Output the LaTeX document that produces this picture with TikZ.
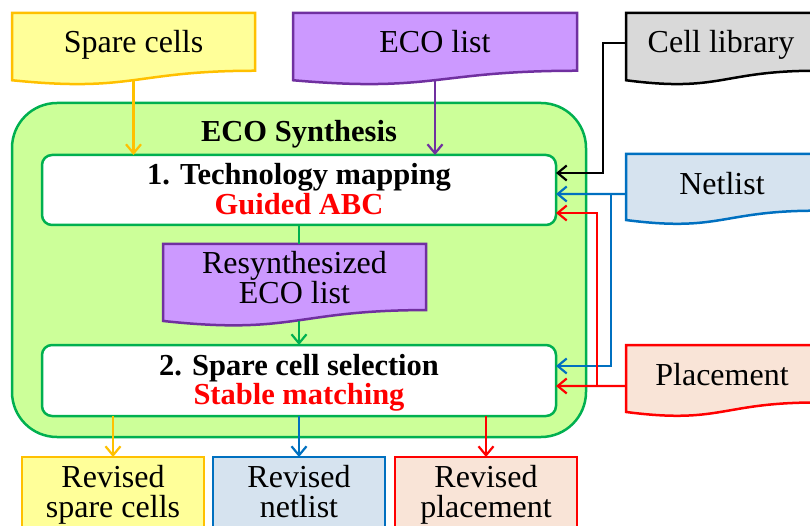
\documentclass[tikz,border=0pt]{standalone}
\usepackage{fontspec}
\setmainfont{Liberation Serif}
\usetikzlibrary{arrows.meta}
\definecolor{yelfill}{HTML}{FFFF99}
\definecolor{yeldraw}{HTML}{FFC000}
\definecolor{purfill}{HTML}{CC99FF}
\definecolor{purdraw}{HTML}{7030A0}
\definecolor{greyfill}{HTML}{D9D9D9}
\definecolor{bluefill}{HTML}{D6E3EF}
\definecolor{bluedraw}{HTML}{0070C0}
\definecolor{peachfill}{HTML}{F9E4D7}
\definecolor{reddraw}{HTML}{FF0000}
\definecolor{grnfill}{HTML}{CCFF99}
\definecolor{grndraw}{HTML}{00B050}
% document shape: name, x1, y1, x2, h, style
\newcommand{\docshape}[6]{%
  \path[#6] (#2,#3) -- (#4,#3) -- (#4,{#3+0.802*#5})
    .. controls ({(#2+#4)/2},{#3+0.802*#5}) and ({(#2+#4)/2},{#3+1.107*#5}) ..
    (#2,{#3+0.934*#5}) -- cycle;
  \node[inner sep=0, outer sep=0, minimum width={(#4-#2)*1pt},
        minimum height={0.933*#5*1pt}, anchor=north west] (#1) at (#2,#3) {};%
}
\begin{document}
\begin{tikzpicture}[x=1pt,y=-1pt, line width=2.5pt,
  txt/.style={font=\fontsize{32}{32}\selectfont, inner sep=0, anchor=base},
  btxt/.style={font=\fontsize{30.5}{31}\selectfont\bfseries, inner sep=0, anchor=base},
  arr/.style={line width=2.2pt, -{Straight Barb[length=9pt,width=15pt]}},
  boxnode/.style={inner sep=0, outer sep=0, anchor=north west},
  stepbox/.style={boxnode, draw=grndraw, fill=white, rounded corners=10pt, minimum width=514pt}
]
\useasboundingbox (0,0) rectangle (810,526);
\clip (0,0) rectangle (810,526);

% outer ECO synthesis box
\node[boxnode, draw=grndraw, fill=grnfill, rounded corners=45pt,
      minimum width=574pt, minimum height=334pt] (synth) at (12,103) {};
\node[btxt] (tsynth) at (299,142) {ECO Synthesis};

% steps
\node[stepbox, minimum height=70pt] (box1) at (42,155) {};
\node[btxt] (t1a) at (299,185) {1. Technology mapping};
\node[btxt, text=reddraw] (t1b) at (299,215) {Guided ABC};

\node[stepbox, minimum height=71pt] (box2) at (42,345) {};
\node[btxt] (t2a) at (299,375.5) {2. Spare cell selection};
\node[btxt, text=reddraw] (t2b) at (299,404) {Stable matching};

% document shapes
\docshape{spare}{12}{13}{255}{72}{draw=yeldraw, fill=yelfill}
\node[txt] (tspare) at (133.5,53) {Spare cells};
\docshape{eco}{293}{13}{577}{72}{draw=purdraw, fill=purfill}
\node[txt] (teco) at (435,53) {ECO list};
\docshape{celllib}{626}{13}{816}{72}{draw=black, fill=greyfill}
\node[txt] (tcell) at (721,53) {Cell library};
\docshape{net}{626}{154}{816}{70.7}{draw=bluedraw, fill=bluefill}
\node[txt] (tnet) at (722,195) {Netlist};
\docshape{place}{626}{345}{816}{71.7}{draw=reddraw, fill=peachfill}
\node[txt] (tplace) at (722,385) {Placement};
\docshape{resyn}{163}{244}{426}{82.4}{draw=purdraw, fill=purfill}
\node[txt] (tresa) at (294.5,273) {Resynthesized};
\node[txt] (tresb) at (294.5,303) {ECO list};

% output boxes
\node[boxnode, draw=yeldraw, fill=yelfill, minimum width=182pt, minimum height=95pt] (revsp) at (22,457) {};
\node[txt] (trevspa) at (113,487) {Revised};
\node[txt] (trevspb) at (113,517) {spare cells};
\node[boxnode, draw=bluedraw, fill=bluefill, minimum width=172pt, minimum height=95pt] (revnet) at (213,457) {};
\node[txt] (trevneta) at (299,487) {Revised};
\node[txt] (trevnetb) at (299,517) {netlist};
\node[boxnode, draw=reddraw, fill=peachfill, minimum width=182pt, minimum height=95pt] (revpl) at (395,457) {};
\node[txt] (trevpla) at (486,487) {Revised};
\node[txt] (trevplb) at (486,517) {placement};

% connectors
\draw[arr, yeldraw] (spare.south) -- (spare.south |- box1.north);
\draw[arr, purdraw] (eco.south) -- (eco.south |- box1.north);
\draw[arr, black] ([yshift=3.5pt]celllib.west) -| ([xshift=47pt,yshift=17pt]box1.east) -- ([yshift=17pt]box1.east);
\draw[arr, bluedraw] ([yshift=-7pt]net.west) -- ([yshift=-4pt]box1.east);
\draw[arr, bluedraw] ([xshift=55pt,yshift=-4pt]box1.east) |- ([yshift=14.5pt]box2.east);
\draw[arr, reddraw] ([yshift=-7.5pt]place.west) -- ([yshift=-5.5pt]box2.east);
\draw[arr, reddraw] ([xshift=41pt,yshift=-5.5pt]box2.east) |- ([yshift=-23pt]box1.east);
\draw[grndraw, line width=2.2pt] (box1.south) -- (box1.south |- resyn.north);
\draw[arr, grndraw] (box2.north |- resyn.south) -- (box2.north);
\draw[arr, yeldraw] (revsp.north |- box2.south) -- (revsp.north);
\draw[arr, bluedraw] (revnet.north |- box2.south) -- (revnet.north);
\draw[arr, reddraw] (revpl.north |- box2.south) -- (revpl.north);
\end{tikzpicture}
\end{document}
